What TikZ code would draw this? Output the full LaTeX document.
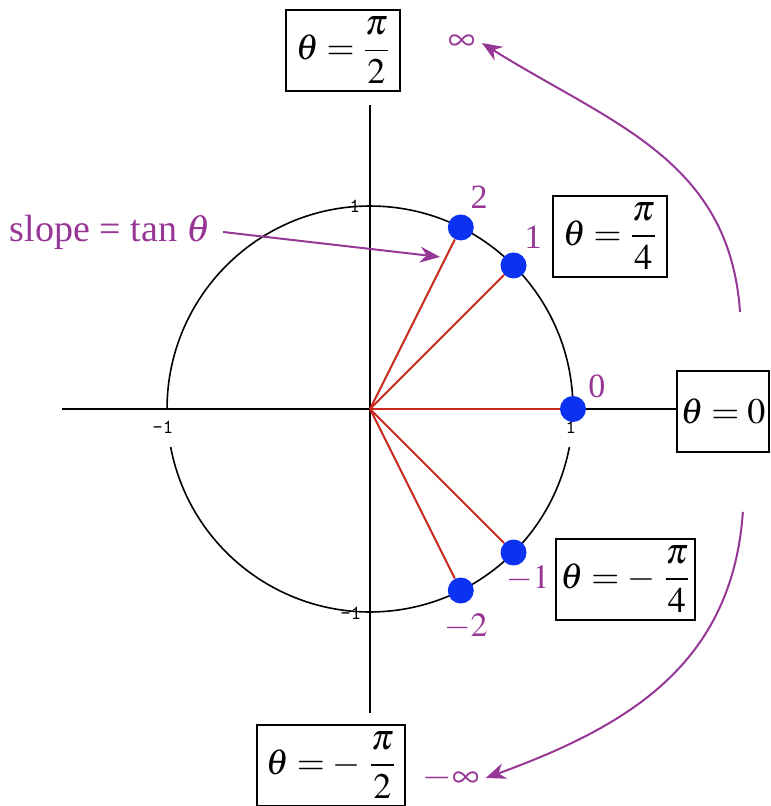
\documentclass[tikz,border=0pt]{standalone}
\usepackage{mathptmx}
\usepackage{fontspec}
\setmainfont{Liberation Serif}
\usetikzlibrary{arrows.meta}
\definecolor{tanpurple}{RGB}{150,55,150}
\definecolor{dotblue}{RGB}{10,50,240}
\definecolor{rayred}{RGB}{200,40,30}

\begin{document}
\begin{tikzpicture}[x=101.5pt, y=101.5pt, >={Stealth[length=10pt, width=8pt]},
    anglebox/.style={draw, line width=1pt, minimum height=40.5pt, inner sep=2pt,
      font=\fontsize{18}{22}\selectfont},
    tanlabel/.style={text=tanpurple, inner sep=1pt, font=\fontsize{17}{20}\selectfont},
    axistick/.style={inner sep=0pt, font=\fontsize{10}{11}\ttfamily},
    tandot/.style={circle, fill=dotblue, minimum size=13pt, inner sep=0pt},
    tanarrow/.style={tanpurple, line width=1pt, ->}]
  \useasboundingbox (-1.823,-1.956) rectangle (1.975,2.015);
  % Angle boxes
  \node[anglebox, minimum width=57pt] (half) at (-0.133,1.766)
    {$\theta = \displaystyle\frac{\pi}{2}$};
  \node[anglebox, minimum width=57pt] (quarter) at (1.182,0.850)
    {$\theta = \displaystyle\frac{\pi}{4}$};
  \node[anglebox, minimum width=45pt] (zero) at (1.739,-0.01) {$\theta = 0$};
  \node[anglebox, minimum width=68.5pt] (mquarter) at (1.259,-0.840)
    {$\theta = -\;\displaystyle\frac{\pi}{4}$};
  \node[anglebox, minimum width=74pt] (mhalf) at (-0.192,-1.756)
    {$\theta = -\;\displaystyle\frac{\pi}{2}$};
  % Axes
  \coordinate (O) at (0,0);
  \coordinate (xleft) at (-1.517,0);
  \coordinate (ytop) at (0,1.498);
  \coordinate (ybot) at (0,-1.498);
  \draw[line width=1pt] (xleft) -- (xleft -| zero.west);
  \draw[line width=1pt] (ybot) -- (ytop);
  % Unit circle, broken where the tick labels sit
  \draw[line width=0.8pt] (1,0) arc[start angle=0, end angle=180, radius=1];
  \draw[line width=0.8pt] (190.8:1) arc[start angle=190.8, end angle=349.2, radius=1];
  \node[axistick] at (-0.074,1.0) {1};
  \node[axistick] at (-0.094,-1.005) {-1};
  \node[axistick] at (-1.020,-0.089) {-1};
  \node[axistick] at (0.99,-0.09) {1};
  % Points with slope tan(theta) = 0, 1, 2, -1, -2
  \foreach \a/\n in {0/pzero, 45/pone, 63.43/ptwo, -45/mone, -63.43/mtwo} {
    \node[tandot] (\n) at (\a:1) {};
    \draw[rayred, line width=1pt] (O) -- (\n);
  }
  \node[tanlabel] at (0.537,1.044) {2};
  \node[tanlabel] at (0.803,0.847) {1};
  \node[tanlabel] at (1.118,0.113) {0};
  \node[tanlabel] at (0.778,-0.837) {$-1$};
  \node[tanlabel] at (0.473,-1.074) {$-2$};
  % Slope label
  \node[tanlabel, anchor=east, inner xsep=6pt, font=\fontsize{19}{22}\selectfont]
    (slope) at (-0.724,0.872) {slope = tan $\theta$};
  \coordinate (slopetip) at (0.345,0.749);
  \draw[tanarrow] (slope.east) -- (slopetip);
  % Limits at the top and bottom
  \node[tanlabel, inner sep=3pt, font=\fontsize{19}{22}\selectfont] (inf) at (0.453,1.803) {$\infty$};
  \node[tanlabel, inner sep=3pt, font=\fontsize{19}{22}\selectfont] (minf) at (0.399,-1.818) {$-\infty$};
  \coordinate (upstart) at (1.823,0.478);
  \coordinate (downstart) at (1.837,-0.507);
  \draw[tanarrow] (upstart) to[out=94, in=-32, looseness=1.05] (inf.east);
  \draw[tanarrow] (downstart) to[out=-94, in=20, looseness=1.05] (minf.east);
\end{tikzpicture}
\end{document}
